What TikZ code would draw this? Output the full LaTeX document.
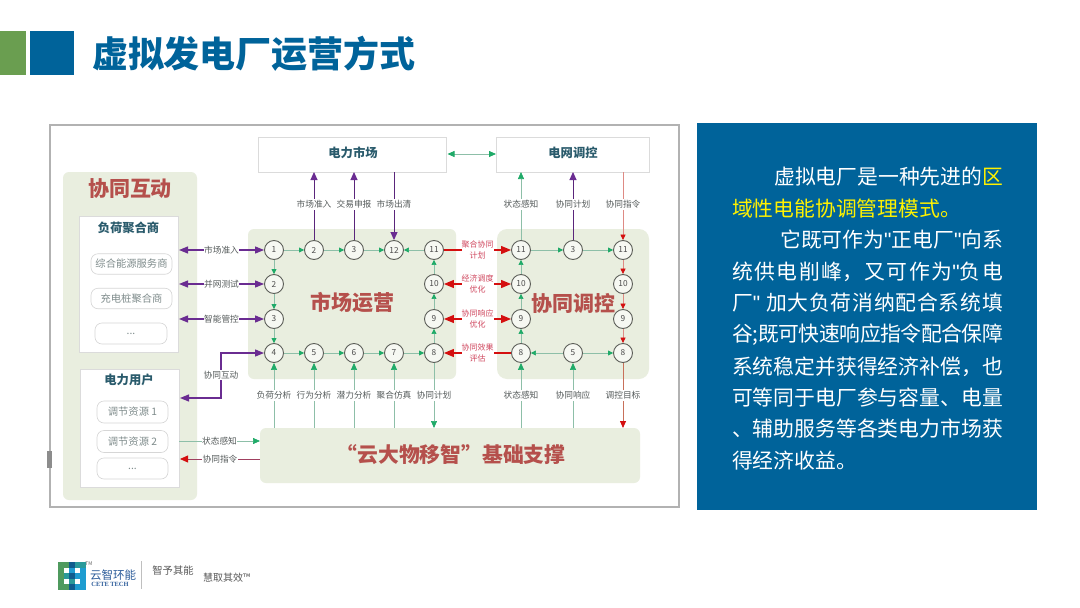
\documentclass[tikz,border=0pt]{standalone}
\usepackage{fontspec}
\setmainfont{Noto Sans CJK SC}
\newfontfamily\latinf{Liberation Sans}
\newfontfamily\serifl{Liberation Serif}
\newcommand{\sq}{{\latinf"}}
\XeTeXlinebreaklocale "zh"
\XeTeXlinebreakskip=0pt plus 1.5pt minus .7pt
\newcommand{\just}[1]{\parbox{271pt}{\parfillskip=0pt\relax #1\par}}
\usetikzlibrary{arrows.meta,calc}
\definecolor{tblue}{HTML}{00639A}
\definecolor{tgreen}{HTML}{6A9E50}
\definecolor{panelc}{HTML}{E9EEDF}
\definecolor{redt}{HTML}{B5504C}
\definecolor{heading}{HTML}{2A5B6C}
\definecolor{pur}{HTML}{6A2C91}
\definecolor{grn}{HTML}{1FAA68}
\definecolor{grl}{HTML}{8DBFA8}
\definecolor{rd}{HTML}{D40F0F}
\definecolor{rdl}{HTML}{DE8A84}
\definecolor{rdm}{HTML}{C8705A}
\definecolor{pr}{HTML}{A04060}
\definecolor{rlab}{HTML}{D0485F}
\definecolor{lab}{HTML}{555B5B}
\definecolor{pilltxt}{HTML}{7F8C8C}
\definecolor{logoblue}{HTML}{2C5C9A}
\definecolor{lgn}{HTML}{4F9A5E}
\definecolor{lcy}{HTML}{1E9CD0}
\definecolor{lnv}{HTML}{0F5C8E}
\definecolor{ltl}{HTML}{2A9A9A}
\tikzset{
  x=1pt,y=-1pt,
  px/.style={inner sep=0pt,outer sep=0pt},
  panel/.style={px,fill=panelc,rounded corners=6pt,anchor=north west},
  whitebox/.style={px,draw=black!14,line width=.6pt,fill=white,anchor=north west},
  pill/.style={px,draw=black!16,line width=.6pt,fill=white,rounded corners=7pt,text=pilltxt,font=\fontsize{10.3}{12}\selectfont},
  bigt/.style={px,text=redt,font=\fontsize{21}{24}\selectfont\bfseries},
  headt/.style={px,text=heading,font=\fontsize{12.3}{14}\selectfont\bfseries},
  num/.style={circle,draw=black!60!panelc,line width=.9pt,fill=white!60!panelc,minimum size=19pt,inner sep=0pt,text=black!70,font=\fontsize{8.3}{9}\selectfont},
  lbl/.style={px,fill=white,inner xsep=.5pt,inner ysep=1pt,text height=7.4pt,text depth=1pt,text=lab,font=\fontsize{8.7}{10}\selectfont},
  rlbl/.style={px,fill=white,inner ysep=1pt,align=center,text=rlab,font=\fontsize{8}{11}\selectfont},
  gstep/.style={draw=grl,line width=.7pt,-{Triangle[length=5pt,width=5pt,color=grn]}},
  gbig/.style={draw=grl,line width=.7pt,-{Triangle[length=7pt,width=6pt,color=grn]}},
  pline/.style={draw=pur!85!black,line width=1pt,-{Triangle[length=8pt,width=7pt,color=pur]}},
  pboth/.style={draw=pur,line width=1.2pt,{Triangle[length=9pt,width=7pt,color=pur]}-{Triangle[length=9pt,width=7pt,color=pur]}},
  rstep/.style={draw=rdl,line width=.7pt,-{Triangle[length=5.5pt,width=5pt,color=rd]}},
  rbig/.style={draw=rd,line width=1.2pt,-{Triangle[length=10pt,width=8pt,color=rd]}},
  rboth/.style={draw=rd,line width=1.2pt,{Triangle[length=10pt,width=8pt,color=rd]}-{Triangle[length=10pt,width=8pt,color=rd]}},
  body/.style={px,anchor=west,text=white,font=\fontsize{20.8}{24}\selectfont},
}
\begin{document}
\begin{tikzpicture}
\useasboundingbox (0,0) rectangle (1080,608);
\fill[white] (0,0) rectangle (1080,608);
% title
\node[px,fill=tgreen,minimum width=26pt,minimum height=44pt,anchor=north west] (hg) at (0,31) {};
\node[px,fill=tblue,minimum width=44pt,minimum height=44pt,anchor=north west] (hb) at (30,31) {};
\node[px,anchor=west,text=tblue,font=\fontsize{36}{40}\selectfont\bfseries] (title) at (92,54) {虚拟发电厂运营方式};
% frame
\node[px,draw=black!30,line width=1.5pt,fill=white,minimum width=629pt,minimum height=382pt,anchor=north west] (frame) at (50,125) {};
\node[px,fill=black!45,minimum width=5pt,minimum height=17pt,anchor=north west] (handle) at (47,451) {};
% panels
\node[panel,minimum width=134pt,minimum height=328pt] (pl) at (63,172) {};
\node[panel,minimum width=208pt,minimum height=150pt] (pm) at (248,229) {};
\node[panel,minimum width=152pt,minimum height=150pt,rounded corners=10pt] (pr) at (497,229) {};
\node[panel,minimum width=380pt,minimum height=55pt] (pb) at (260,428) {};
% top boxes
\node[whitebox,minimum width=188pt,minimum height=35pt] (mkt) at (258,137) {};
\node[whitebox,minimum width=153pt,minimum height=35pt] (grid) at (496,137) {};
\node[headt] (mktt) at (353,153) {电力市场};
\node[headt] (gridt) at (573,153) {电网调控};
% left
\node[bigt] (t1) at (130,189) {协同互动};
\node[whitebox,minimum width=99pt,minimum height=136pt] (bx1) at (79,216) {};
\node[headt] (bx1t) at (128.500,228) {负荷聚合商};
\node[pill,minimum width=81pt,minimum height=20.5pt] (p1) at (131.500,264) {综合能源服务商};
\node[pill,minimum width=81pt,minimum height=20.5pt] (p2) at (131.500,298.500) {充电桩聚合商};
\node[pill,minimum width=72pt,minimum height=21pt] (p3) at (131,333.500) {...};
\node[whitebox,minimum width=99pt,minimum height=118pt] (bx2) at (80,369) {};
\node[headt] (bx2t) at (129,380) {电力用户};
\node[pill,minimum width=71pt,minimum height=22pt] (p4) at (132.500,412) {调节资源 1};
\node[pill,minimum width=71pt,minimum height=22pt] (p5) at (132.500,441.500) {调节资源 2};
\node[pill,minimum width=71pt,minimum height=21pt] (p6) at (132.500,468.500) {...};
% panel titles
\node[bigt] (t2) at (352,303) {市场运营};
\node[bigt] (t3) at (573,303) {协同调控};
\node[bigt,font=\fontsize{20.8}{24}\selectfont\bfseries] (t4) at (451,455) {“云大物移智”基础支撑};
% circles market
\node[num] (a1) at (274,250) {1};
\node[num] (a2) at (314,250) {2};
\node[num] (a3) at (354,250) {3};
\node[num] (a12) at (394,250) {12};
\node[num] (a11) at (434,250) {11};
\node[num] (b2) at (274,284) {2};
\node[num] (b3) at (274,319) {3};
\node[num] (a10) at (434,284) {10};
\node[num] (a9) at (434,319) {9};
\node[num] (c4) at (274,353) {4};
\node[num] (c5) at (314,353) {5};
\node[num] (c6) at (354,353) {6};
\node[num] (c7) at (394,353) {7};
\node[num] (c8) at (434,353) {8};
% circles control
\node[num] (d11) at (521,250) {11};
\node[num] (d10) at (521,284) {10};
\node[num] (d9) at (521,319) {9};
\node[num] (d8) at (521,353) {8};
\node[num] (e3) at (573,250) {3};
\node[num] (e5) at (573,353) {5};
\node[num] (f11) at (623,250) {11};
\node[num] (f10) at (623,284) {10};
\node[num] (f9) at (623,319) {9};
\node[num] (f8) at (623,353) {8};
% green steps
\draw[gstep] (a1) -- (a2);
\draw[gstep] (a2) -- (a3);
\draw[gstep] (a3) -- (a12);
\draw[gstep] (a11) -- (a12);
\draw[gstep] (a1) -- (b2);
\draw[gstep] (b2) -- (b3);
\draw[gstep] (b3) -- (c4);
\draw[gstep] (c4) -- (c5);
\draw[gstep] (c5) -- (c6);
\draw[gstep] (c6) -- (c7);
\draw[gstep] (c7) -- (c8);
\draw[gstep] (c8) -- (a9);
\draw[gstep] (a9) -- (a10);
\draw[gstep] (a10) -- (a11);
\draw[gstep] (d8) -- (d9);
\draw[gstep] (d9) -- (d10);
\draw[gstep] (d10) -- (d11);
\draw[gstep] (d11) -- (e3);
\draw[gstep] (e3) -- (f11);
\draw[gstep] (e5) -- (d8);
\draw[gstep] (e5) -- (f8);
\draw[rstep] (f11) -- (f10);
\draw[rstep] (f10) -- (f9);
\draw[rstep] (f9) -- (f8);
% market <-> grid
\draw[draw=grl,line width=.8pt,{Triangle[length=7pt,width=6pt,color=grn]}-{Triangle[length=7pt,width=6pt,color=grn]}] (mkt.east |- 0,154) ++(1.5,0) coordinate (mg1) -- (grid.west |- mg1);
% top connectors
\draw[pline] (a2) -- (a2 |- mkt.south) node[lbl,pos=.52] {市场准入};
\draw[pline] (a3) -- (a3 |- mkt.south) node[lbl,pos=.52] {交易申报};
\draw[pline] (a12 |- mkt.south) -- (a12) node[lbl,pos=.48] {市场出清};
\draw[gbig] (d11) -- (d11 |- grid.south) node[lbl,pos=.52] {状态感知};
\draw[pline] (e3) -- (e3 |- grid.south) node[lbl,pos=.52] {协同计划};
\draw[rstep] (f11 |- grid.south) -- (f11) node[lbl,pos=.48] {协同指令};
% left connectors
\coordinate (la) at (bx1.east |- a1);
\coordinate (lb) at (bx1.east |- b2);
\coordinate (lc) at (bx1.east |- b3);
\draw[pboth] (la) ++(1,0) -- (a1) node[lbl,midway] {市场准入};
\draw[pboth] (lb) ++(1,0) -- (b2) node[lbl,midway] {并网测试};
\draw[pboth] (lc) ++(1,0) -- (b3) node[lbl,midway] {智能管控};
\coordinate (ld) at (180,398);
\draw[pur,line width=1.2pt,{Triangle[length=9pt,width=7pt,color=pur]}-{Triangle[length=9pt,width=7pt,color=pur]}] (ld) -| (221,353) -- (c4);
\node[lbl] (ldt) at (221,375) {协同互动};
\coordinate (le) at (bx2.east |- 0,441);
\coordinate (lf) at (bx2.east |- 0,459);
\draw[gbig] (le) -- (pb.west |- le) node[lbl,midway] {状态感知};
\draw[draw=pr,line width=.8pt,-{Triangle[length=8pt,width=7pt,color=rd]}] (pb.west |- lf) -- ($(lf)+(1,0)$) node[lbl,midway] {协同指令};
% bottom connectors
\draw[gbig] (pb.north -| c4) -- (c4) node[lbl,pos=.5] {负荷分析};
\draw[gbig] (pb.north -| c5) -- (c5) node[lbl,pos=.5] {行为分析};
\draw[gbig] (pb.north -| c6) -- (c6) node[lbl,pos=.5] {潜力分析};
\draw[gbig] (pb.north -| c7) -- (c7) node[lbl,pos=.5] {聚合仿真};
\draw[gbig] (c8) -- (pb.north -| c8) node[lbl,pos=.5] {协同计划};
\draw[gbig] (pb.north -| d8) -- (d8) node[lbl,pos=.5] {状态感知};
\draw[gbig] (pb.north -| e5) -- (e5) node[lbl,pos=.5] {协同响应};
\draw[draw=rdm,line width=.8pt,-{Triangle[length=7pt,width=6pt,color=rd]}] (f8) -- (pb.north -| f8) node[lbl,pos=.5] {调控目标};
% red middle
\draw[rbig] (a11) -- (d11) node[rlbl,midway] {聚合协同\\计划};
\draw[rboth] (a10) -- (d10) node[rlbl,midway] {经济调度\\优化};
\draw[rboth] (a9) -- (d9) node[rlbl,midway] {协同响应\\优化};
\draw[rbig] (d8) -- (c8) node[rlbl,midway] {协同效果\\评估};
% right panel
\node[px,fill=tblue,minimum width=340pt,minimum height=387pt,anchor=north west] (rp) at (697,123) {};
\node[body,anchor=east] (l1) at (1003,177) {虚拟电厂是一种先进的\textcolor{yellow}{区}};
\node[body,text=yellow] (l2) at (732,209) {域性电能协调管理模式。};
\node[body,anchor=east] (l3) at (1003,240) {它既可作为\sq 正电厂\sq 向系};
\node[body] (l4) at (732,272) {\just{统供电削峰，又可作为\sq 负电}};
\node[body] (l5) at (732,303) {\just{厂\sq{} 加大负荷消纳配合系统填}};
\node[body] (l6) at (732,335) {\just{谷;既可快速响应指令配合保障}};
\node[body] (l7) at (732,367) {\just{系统稳定并获得经济补偿，也}};
\node[body] (l8) at (732,398) {\just{可等同于电厂参与容量、电量}};
\node[body] (l9) at (732,429) {\just{、辅助服务等各类电力市场获}};
\node[body] (l10) at (732,461) {得经济收益。};
% logo
\foreach \c/\r/\k in {0/0/lgn,1/0/lgn,2/0/lnv,3/0/ltl,4/0/ltl,0/1/lgn,2/1/lcy,4/1/lcy,0/2/lgn,1/2/ltl,2/2/lnv,3/2/lcy,4/2/lcy,0/3/lgn,2/3/ltl,4/3/lcy,0/4/lgn,1/4/lgn,2/4/lnv,3/4/lcy,4/4/lcy}
  \fill[\k] ({58+\c*5.5},{562+\r*5.5}) rectangle +(5.5,5.5);
\node[px,text=logoblue,font=\fontsize{11.5}{13}\selectfont] (lg1) at (113,575) {云智环能};
\node[px,text=logoblue,font=\fontsize{6.4}{7}\serifl\bfseries] (lg2) at (110,584) {CETE TECH};
\node[px,text=black!60,font=\fontsize{5}{6}\selectfont] (lg3) at (89,564) {TM};
\draw[black!25,line width=.6pt] (141,561) -- (141,589);
\node[px,text=black!65,font=\fontsize{10.3}{12}\selectfont] (lg4) at (173,571) {智予其能};
\node[px,text=black!65,font=\fontsize{10}{12}\selectfont,anchor=west] (lg5) at (203,578) {慧取其效™};
\end{tikzpicture}
\end{document}
